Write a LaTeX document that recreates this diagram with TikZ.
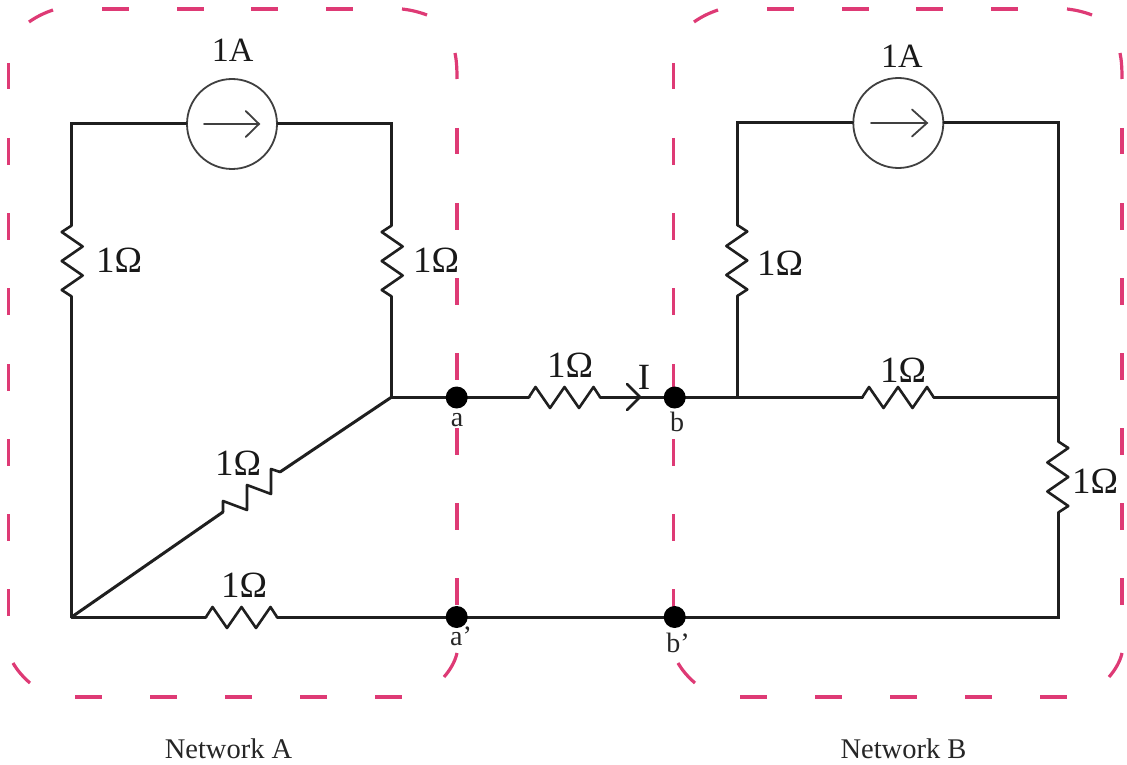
\documentclass[tikz,border=0pt]{standalone}
\usepackage{fontspec}
\setmainfont{Liberation Serif}
\definecolor{pinkdash}{HTML}{DE3A75}
\tikzset{
  x=1pt,y=-1pt,
  wire/.style={line width=3pt,black!88,line cap=round,line join=miter},
  zig/.style={line width=2.6pt,black!88,line cap=round,line join=round},
  thin wire/.style={line width=1.8pt,black!75,line cap=round},
  boundary/.style={line width=3.2pt,pinkdash},
  dotn/.style={circle,fill=black,inner sep=0pt,minimum size=22pt},
  src/.style={circle,draw=black!75,line width=1.8pt,minimum size=90pt,inner sep=0pt,fill=white},
  val/.style={font=\fontsize{37pt}{37pt}\selectfont,inner sep=0pt,text=black!90,anchor=base},
  srcval/.style={font=\fontsize{34pt}{34pt}\selectfont,inner sep=0pt,text=black!90,anchor=base},
  term/.style={font=\fontsize{28pt}{28pt}\selectfont,inner sep=0pt,text=black!85,anchor=base},
  netcap/.style={font=\fontsize{28.5pt}{28.5pt}\selectfont,inner sep=0pt,text=black!85,anchor=base},
  resistor/.pic={
    \coordinate (-l) at (-35.5,0);
    \coordinate (-r) at (35.5,0);
    \draw[zig] (-l) -- (-29,-10) -- (-14.5,11) -- (0,-10) -- (14.5,11) -- (29,-10) -- (-r);
  },
  boundarybox/.pic={
    \foreach \s in {63,138,213,288,364,439,514,589} \draw[boundary] (8.7,\s) -- +(0,26.5);
    \foreach \s in {128,203,278,353,428,503,578} \draw[boundary] (457,\s) -- +(0,26.5);
    \foreach \s in {102,177,251,326} \draw[boundary] (\s,9) -- +(26.5,0);
    \foreach \s in {75,150,225,300,375} \draw[boundary] (\s,697) -- +(26.5,0);
    \draw[boundary] (29,22) .. controls (36,17) and (44,13) .. (53,10);
    \draw[boundary] (402,9) .. controls (411,10) and (419,12) .. (427,15);
    \draw[boundary] (455,53) .. controls (456.5,60) and (457,68) .. (457,79);
    \draw[boundary] (457,653) .. controls (455,662) and (450,670) .. (444,677);
    \draw[boundary] (13,663) .. controls (17,670) and (23,677) .. (30,683);
  }
}
\begin{document}
\begin{tikzpicture}
\useasboundingbox (0,0) rectangle (1127,765);
% boundaries
\pic at (0,0) {boundarybox};
\pic at (665,0) {boundarybox};
% junctions
\coordinate (tl) at (71.7,124);
\coordinate (tr) at (391.7,124);
\coordinate (mid) at (391.7,397);
\coordinate (bl) at (71.7,617);
\coordinate (btl) at (737.3,123);
\coordinate (btr) at (1058.3,123);
\coordinate (bmid) at (737.3,397);
\coordinate (bmr) at (1058.3,397);
\coordinate (bbr) at (1058.3,617);
% resistors
\pic (r1) at (71.7,261) [rotate=-90,yscale=-1] {resistor};
\pic (r2) at (391.7,261) [rotate=-90,yscale=-1] {resistor};
\pic (r3) at (737.3,260.5) [rotate=-90] {resistor};
\pic (r4) at (564.5,397) {resistor};
\pic (r5) at (898,397) {resistor};
\pic (r6) at (1058.3,477) [rotate=-90] {resistor};
\pic (r8) at (241.5,617) {resistor};
\coordinate (r7l) at (223,512);
\coordinate (r7r) at (280,472);
\draw[zig] (r7l) -- (223,501) -- (247,510) -- (247,485) -- (271,494) -- (271,469) -- (r7r);
% terminals and sources
\node[src] (s1) at (232,124) {};
\node[src] (s2) at (898.3,123) {};
% wires
\draw[wire] (s1) -- (tl) -- (r1-l);
\draw[wire] (r1-r) -- (bl);
\draw[wire] (s1) -- (tr) -- (r2-l);
\draw[wire] (r2-r) -- (mid) -- (r4-l);
\draw[wire] (r4-r) -- (r5-l);
\draw[wire] (r5-r) -- (bmr);
\draw[wire] (s2) -- (btl) -- (r3-l);
\draw[wire] (r3-r) -- (bmid);
\draw[wire] (s2) -- (btr) -- (bmr) -- (r6-l);
\draw[wire] (r6-r) -- (bbr) -- (r8-r);
\draw[wire] (r8-l) -- (bl);
\draw[wire] (bl) -- (r7l);
\draw[wire] (r7r) -- (mid);
\node[dotn] (a) at (456.7,397.5) {};
\node[dotn] (b) at (674.7,397.5) {};
\node[dotn] (ap) at (456.7,617) {};
\node[dotn] (bp) at (674.7,617) {};
% arrows
\coordinate (ia) at (204,124); \coordinate (ib) at (259,124);
\draw[thin wire] (ia) -- (ib) (245.7,111) -- (ib) -- (245.7,137);
\coordinate (ja) at (871,123); \coordinate (jb) at (927,123);
\draw[thin wire] (ja) -- (jb) (912,109.5) -- (jb) -- (912,136.5);
\coordinate (cur) at (640,397);
\coordinate (cura) at (627,384);
\coordinate (curb) at (627,410);
\draw[zig] (cura) -- (cur) -- (curb);
% labels
\node[srcval] (l1) at (232.7,62) {1A};
\node[srcval] (l2) at (902,68) {1A};
\node[val] (v1) at (119,272) {1Ω};
\node[val] (v2) at (436,272) {1Ω};
\node[val] (v3) at (780,275) {1Ω};
\node[val] (v4) at (570,377) {1Ω};
\node[val] (v5) at (903,382) {1Ω};
\node[val] (v6) at (1095,493) {1Ω};
\node[val] (v7) at (238,475) {1Ω};
\node[val] (v8) at (244,597) {1Ω};
\node[val] (il) at (644,389) {I};
\node[term] (ta) at (457,426) {a};
\node[term] (tb) at (677,431) {b};
\node[term] (tap) at (461,645) {a’};
\node[term] (tbp) at (678,652) {b’};
\node[netcap] (na) at (228.5,758) {Network A};
\node[netcap] (nb) at (903.5,758) {Network B};
\end{tikzpicture}
\end{document}
